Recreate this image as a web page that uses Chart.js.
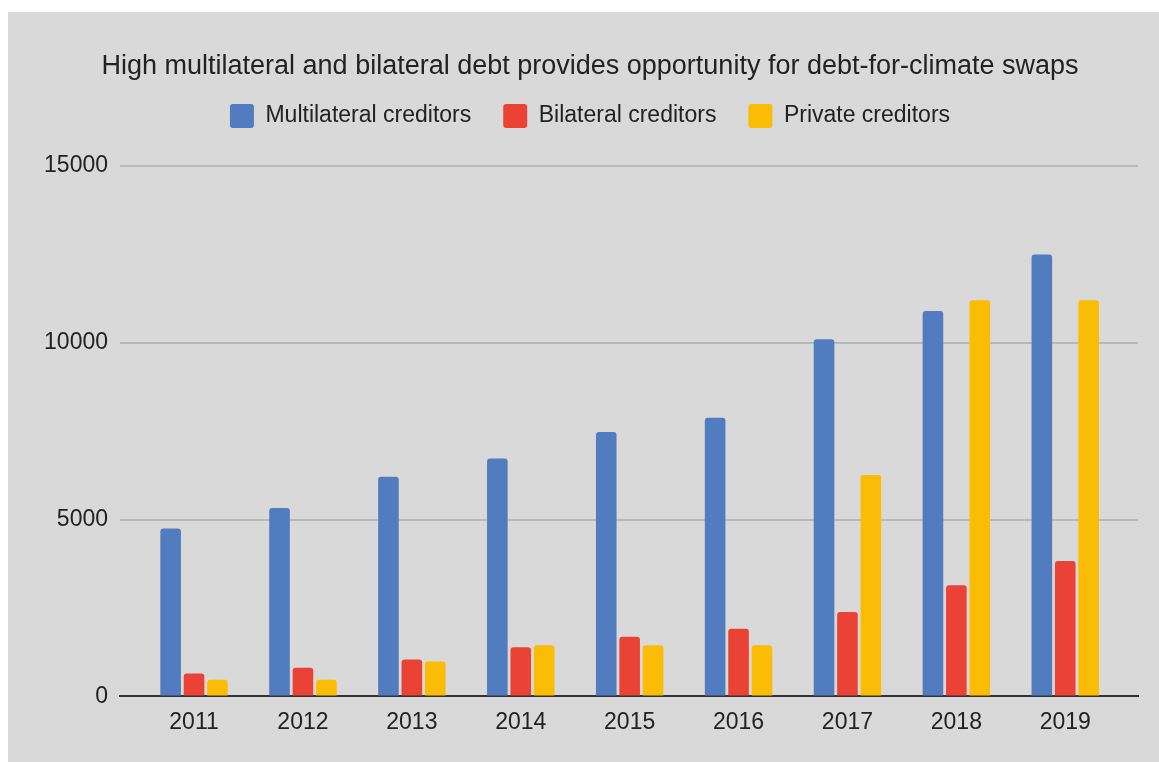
<!DOCTYPE html>
<html>
<head>
<meta charset="utf-8">
<script src="https://cdn.jsdelivr.net/npm/chart.js@4.4.1/dist/chart.umd.min.js"></script>
<style>
  html, body { margin: 0; padding: 0; background: #ffffff; }
  #wrap { position: absolute; left: 8px; top: 12px; width: 1151px; height: 750px; background: #d9d9d9; }
</style>
</head>
<body>
<div id="wrap"><canvas id="c"></canvas></div>
<script>
const years = [2011, 2012, 2013, 2014, 2015, 2016, 2017, 2018, 2019];
const multilateral = [4750, 5330, 6210, 6730, 7480, 7880, 10100, 10900, 12500];
const bilateral = [650, 810, 1045, 1390, 1690, 1910, 2390, 3140, 3830];
const privateCred = [470, 470, 990, 1450, 1450, 1450, 6260, 11200, 11200];
const yTicks = [0, 5000, 10000, 15000];
const titleText = 'High multilateral and bilateral debt provides opportunity for debt-for-climate swaps';

const FONT = '"Liberation Sans", Arial, Helvetica, sans-serif';

const legendSpacer = {
  id: 'legendSpacer',
  beforeInit(chart) {
    const lg = chart.legend;
    if (!lg) return;
    const origFit = lg.fit;
    lg.fit = function () { origFit.call(this); this.height += 28; };
  }
};

new Chart(document.getElementById('c'), {
  type: 'bar',
  data: {
    labels: years,
    datasets: [
      { label: 'Multilateral creditors', data: multilateral, backgroundColor: '#527cc0' },
      { label: 'Bilateral creditors', data: bilateral, backgroundColor: '#ea4335' },
      { label: 'Private creditors', data: privateCred, backgroundColor: '#fbbc05' }
    ]
  },
  plugins: [legendSpacer],
  options: {
    responsive: true,
    maintainAspectRatio: false,
    animation: false,
    layout: { padding: { left: 34, right: 21, top: 0, bottom: 22 } },
    datasets: {
      bar: {
        categoryPercentage: 0.645,
        barPercentage: 0.88,
        borderWidth: 0,
        borderRadius: { topLeft: 3, topRight: 3, bottomLeft: 0, bottomRight: 0 },
        borderSkipped: 'bottom'
      }
    },
    plugins: {
      title: {
        display: true,
        text: titleText,
        color: '#222222',
        font: { family: FONT, size: 27, weight: 'normal', lineHeight: 1 },
        padding: { top: 41, bottom: -8 }
      },
      legend: {
        display: true,
        labels: {
          color: '#222222',
          font: { family: FONT, size: 23 },
          boxWidth: 24,
          boxHeight: 24,
          useBorderRadius: true,
          borderRadius: 3,
          padding: 32
        }
      },
      tooltip: { enabled: false }
    },
    scales: {
      x: {
        type: 'linear',
        min: 2010.32,
        max: 2019.668,
        offset: false,
        grid: { display: false },
        border: { display: true, color: '#333333', width: 2 },
        ticks: {
          color: '#222222',
          font: { family: FONT, size: 23 },
          padding: 4,
          callback: v => String(v)
        },
        afterBuildTicks: s => { s.ticks = years.map(v => ({ value: v })); }
      },
      y: {
        min: 0,
        max: 15000,
        grid: {
          color: c => (c.tick && c.tick.value === 0) ? '#333333' : '#b8b8b8',
          lineWidth: 2,
          drawTicks: false
        },
        border: { display: false },
        ticks: {
          color: '#222222',
          font: { family: FONT, size: 23 },
          padding: 12,
          callback: v => String(v)
        },
        afterBuildTicks: s => { s.ticks = yTicks.map(v => ({ value: v })); },
        afterFit: s => { s.width = 78; }
      }
    }
  }
});
</script>
</body>
</html>
